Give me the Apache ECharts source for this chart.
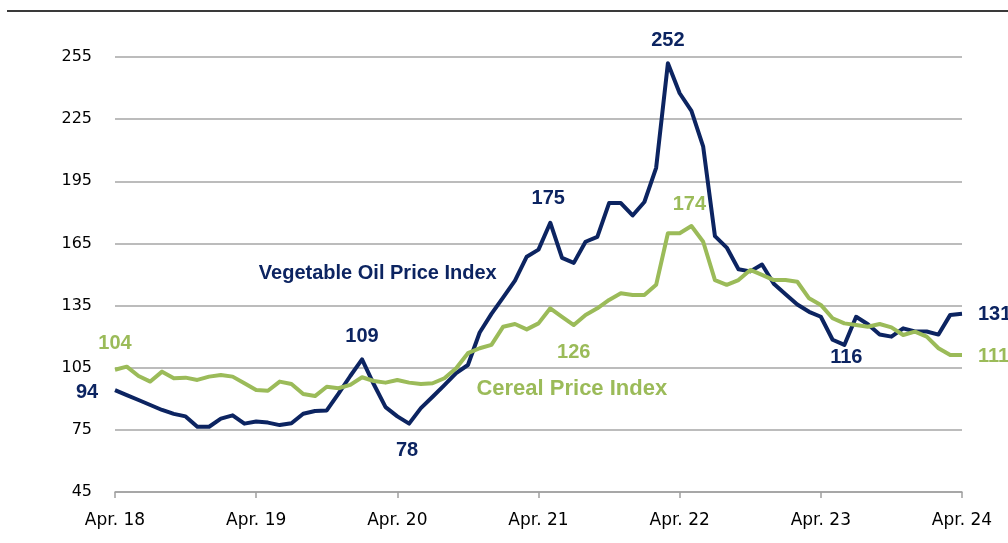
<!DOCTYPE html>
<html>
<head>
<meta charset="utf-8">
<script src="https://cdn.jsdelivr.net/npm/echarts@6/dist/echarts.min.js"></script>
<style>
html,body{margin:0;padding:0;background:#fff;}
#chart{width:1008px;height:543px;}
</style>
</head>
<body>
<div id="chart"></div>
<script>
// Monthly categories Apr 2018 .. Apr 2024
const monthNames = ['Jan.','Feb.','Mar.','Apr.','May','Jun.','Jul.','Aug.','Sep.','Oct.','Nov.','Dec.'];
const categories = [];
for (let i = 0; i <= 72; i++) {
  const m = (3 + i) % 12;
  const y = 18 + Math.floor((3 + i) / 12);
  categories.push(monthNames[m] + ' ' + y);
}

const vegetableOil = [
  94.2, 91.8, 89.4, 87.0, 84.6, 82.7, 81.5, 76.5, 76.5, 80.4, 82.0, 78.0,
  79.0, 78.5, 77.3, 78.2, 82.8, 84.1, 84.4, 92.5, 101.0, 109.0, 97.0, 86.0,
  81.5, 78.0, 85.5, 91.0, 96.6, 102.4, 106.3, 122.0, 131.0, 139.0, 147.0, 158.6,
  162.0, 175.0, 158.0, 155.6, 165.8, 168.2, 184.5, 184.5, 178.5, 185.0, 201.5, 252.0,
  237.5, 229.0, 211.7, 168.5, 163.0, 152.5, 151.5, 154.8, 145.5, 140.5, 135.5, 132.0,
  129.6, 118.5, 116.0, 129.6, 126.0, 121.0, 120.0, 124.0, 122.5, 122.5, 121.0, 130.5,
  131.0
];

const cereal = [
  104.0, 105.5, 101.0, 98.3, 103.1, 99.9, 100.2, 99.1, 100.7, 101.5, 100.7, 97.5,
  94.2, 93.9, 98.3, 97.1, 92.3, 91.3, 95.8, 95.1, 96.7, 100.4, 98.6, 97.8,
  99.1, 97.8, 97.1, 97.5, 99.9, 104.7, 112.0, 114.4, 116.0, 124.8, 126.1, 123.5,
  126.4, 133.7, 129.6, 125.6, 130.5, 133.7, 137.7, 140.9, 140.1, 140.1, 145.0, 169.9,
  169.9, 173.4, 165.8, 147.3, 145.0, 147.3, 152.2, 149.8, 147.3, 147.3, 146.5, 138.5,
  135.3, 128.9, 126.4, 125.6, 124.8, 126.1, 124.5, 120.8, 122.4, 120.0, 114.4, 111.1,
  111.1
];

const yTicks = [45, 75, 105, 135, 165, 195, 225, 255];

const seriesNames = ['Vegetable Oil Price Index', 'Cereal Price Index'];
const navy = '#0c2461';
const green = '#9bbb59';

// value labels: [seriesIndex, dataIndex, text, dx, dy, align]
const valueLabels = [
  [1, 0, '104', 0, -26, 'center'],
  [0, 0, '94', -28, 2, 'center'],
  [0, 21, '109', 0, -23, 'center'],
  [0, 25, '78', -2, 27, 'center'],
  [0, 37, '175', -2, -24, 'center'],
  [0, 47, '252', 0, -23, 'center'],
  [1, 49, '174', -2, -22, 'center'],
  [1, 39, '126', 0, 27, 'center'],
  [0, 62, '116', 2, 13, 'center'],
  [0, 72, '131', 16, 1, 'left'],
  [1, 72, '111', 16, 1, 'left']
];

const chart = echarts.init(document.getElementById('chart'), null, {renderer: 'canvas'});
const option = {
  animation: false,
  backgroundColor: '#fff',
  grid: {left: 115, right: 46, top: 57, bottom: 51},
  xAxis: {
    type: 'category',
    data: categories,
    boundaryGap: false,
    axisLine: {lineStyle: {color: '#a0a0a0', width: 1.5}},
    axisTick: {show: true, interval: 11, length: 6, lineStyle: {color: '#a0a0a0', width: 1.5}},
    axisLabel: {
      interval: 11, margin: 20, color: '#000',
      fontFamily: 'DejaVu Sans', fontSize: 17,
      formatter: v => v
    },
    splitLine: {show: false}
  },
  yAxis: {
    type: 'value',
    min: yTicks[0], max: yTicks[yTicks.length - 1], interval: 30,
    axisLine: {show: false},
    axisTick: {show: false},
    axisLabel: {margin: 23, color: '#000', fontFamily: 'DejaVu Sans', fontSize: 16},
    splitLine: {lineStyle: {color: '#a6a6a6', width: 1.5}}
  },
  series: [
    {
      name: seriesNames[0], type: 'line', data: vegetableOil,
      symbol: 'none', smooth: false,
      lineStyle: {color: navy, width: 4, join: 'round'}, z: 2
    },
    {
      name: seriesNames[1], type: 'line', data: cereal,
      symbol: 'none', smooth: false,
      lineStyle: {color: green, width: 4, join: 'round'}, z: 3
    }
  ],
  graphic: [
    {type: 'rect', left: 7, top: 10, shape: {width: 1001, height: 2}, style: {fill: '#3a3a3a'}}
  ]
};
chart.setOption(option);

const graphics = option.graphic.slice();
const dataSets = [vegetableOil, cereal];
const colors = [navy, green];
valueLabels.forEach(([s, i, t, dx, dy, align]) => {
  const p = chart.convertToPixel({gridIndex: 0}, [i, dataSets[s][i]]);
  graphics.push({
    type: 'text', x: p[0] + dx, y: p[1] + dy,
    style: {text: t, fill: colors[s], font: 'bold 20px "Liberation Sans", Arial, sans-serif',
            textAlign: align, textVerticalAlign: 'middle'}
  });
});
// series name annotations placed near data points: [series, index, text, dx, dy, size]
const nameLabels = [
  [0, 22, seriesNames[0], 4, -111, 20],
  [1, 39, seriesNames[1], -2, 64, 22]
];
nameLabels.forEach(([s, i, t, dx, dy, size]) => {
  const p = chart.convertToPixel({gridIndex: 0}, [i, dataSets[s][i]]);
  graphics.push({
    type: 'text', x: p[0] + dx, y: p[1] + dy,
    style: {text: t, fill: colors[s], font: 'bold ' + size + 'px "Liberation Sans", Arial, sans-serif',
            textAlign: 'center', textVerticalAlign: 'middle'}
  });
});
chart.setOption({graphic: graphics});
</script>
</body>
</html>
